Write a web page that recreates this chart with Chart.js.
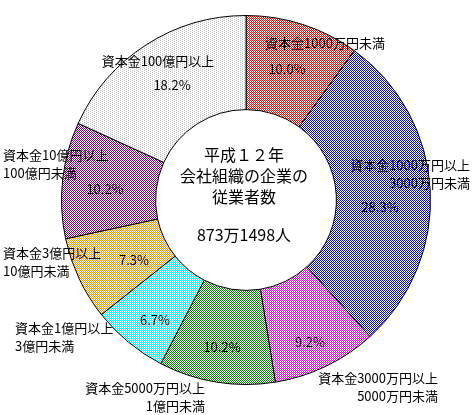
<!DOCTYPE html>
<html>
<head>
<meta charset="utf-8">
<script src="https://cdn.jsdelivr.net/npm/chart.js@4/dist/chart.umd.min.js"></script>
<style>
  html, body { margin: 0; padding: 0; background: #fff; }
  #wrap { width: 474px; height: 415px; }
</style>
</head>
<body>
<div id="wrap"><canvas id="myChart" width="474" height="415"></canvas></div>
<script>
// data, clockwise from the top
const categories = [
  ['資本金1000万円未満'],
  ['資本金1000万円以上', '3000万円未満'],
  ['資本金3000万円以上', '5000万円未満'],
  ['資本金5000万円以上', '1億円未満'],
  ['資本金1億円以上', '3億円未満'],
  ['資本金3億円以上', '10億円未満'],
  ['資本金10億円以上', '100億円未満'],
  ['資本金100億円以上']
];
const shares = [10.0, 28.3, 9.2, 10.2, 6.7, 7.3, 10.2, 18.2];
const centerLines = ['平成１２年', '会社組織の企業の', '従業者数'];
const totalLabel = '873万1498人';

// dotted fills, one colour per slice
const dotColors = ['#ff0000', '#0000ff', '#ff00ff', '#008000', '#00ffff', '#ff9900', '#800080', '#c0c0c0'];

// where the texts go (name x/y/align, percent x/y)
const labelPos = [
  { x: 325, y: 43,  align: 'center', px: 287, py: 69 },
  { x: 470, y: 165, align: 'right',  px: 380, py: 207 },
  { x: 438, y: 378, align: 'right',  px: 310, py: 342 },
  { x: 205, y: 388, align: 'right',  px: 222, py: 347 },
  { x: 15,  y: 328, align: 'left',   px: 155, py: 320 },
  { x: 3,   y: 253, align: 'left',   px: 134, py: 260 },
  { x: 3,   y: 155, align: 'left',   px: 105, py: 189 },
  { x: 158, y: 61,  align: 'center', px: 172, py: 85 }
];

function makePattern(color, sparse) {
  const c = document.createElement('canvas');
  const p = c.getContext('2d');
  if (sparse) {
    c.width = 4; c.height = 2;
    p.fillStyle = '#fff'; p.fillRect(0, 0, 4, 2);
    p.fillStyle = color;
    p.fillRect(0, 0, 1, 1);
    p.fillRect(2, 1, 1, 1);
  } else {
    c.width = 2; c.height = 2;
    p.fillStyle = '#fff'; p.fillRect(0, 0, 2, 2);
    p.fillStyle = color;
    p.fillRect(0, 0, 1, 1);
    p.fillRect(1, 1, 1, 1);
  }
  return p.createPattern(c, 'repeat');
}

const fills = dotColors.map((c, i) => makePattern(c, i === 7));

const textPlugin = {
  id: 'texts',
  afterDraw(chart) {
    const ctx = chart.ctx;
    ctx.save();
    ctx.fillStyle = '#000';
    ctx.textBaseline = 'middle';
    ctx.font = '13px "Noto Sans CJK JP"';
    categories.forEach((lines, i) => {
      const pos = labelPos[i];
      ctx.textAlign = pos.align;
      lines.forEach((t, j) => ctx.fillText(t, pos.x, pos.y + j * 18));
      ctx.textAlign = 'center';
      ctx.fillText(shares[i].toFixed(1) + '%', pos.px, pos.py);
    });
    // centre
    const arc = chart.getDatasetMeta(0).data[0];
    const cx = arc.x, cy = arc.y;
    ctx.font = '16px "Noto Sans CJK JP"';
    ctx.textAlign = 'center';
    centerLines.forEach((t, j) => ctx.fillText(t, cx - 2, cy - 45 + j * 21));
    ctx.fillText(totalLabel, cx - 2, cy + 35);
    ctx.restore();
  }
};

new Chart(document.getElementById('myChart').getContext('2d'), {
  type: 'doughnut',
  data: {
    labels: categories,
    datasets: [{
      data: shares,
      backgroundColor: fills,
      borderColor: '#000',
      borderWidth: 1,
      borderAlign: 'center'
    }]
  },
  options: {
    responsive: false,
    animation: false,
    cutout: '49%',
    layout: { padding: { left: 61, right: 43, top: 15, bottom: 30 } },
    plugins: {
      legend: { display: false },
      tooltip: { enabled: false }
    }
  },
  plugins: [textPlugin]
});
</script>
</body>
</html>
